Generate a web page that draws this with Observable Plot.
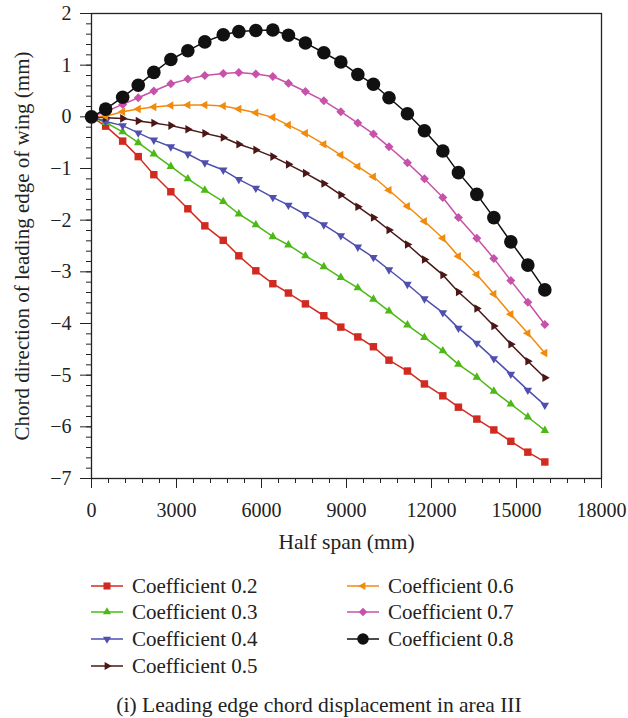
<!DOCTYPE html>
<html><head><meta charset="utf-8">
<script src="https://cdn.jsdelivr.net/npm/d3@7"></script>
<script src="https://cdn.jsdelivr.net/npm/@observablehq/plot@0.6"></script>
<style>
body{margin:0;background:#fff;}
#wrap{position:relative;width:628px;height:718px;font-family:"Liberation Serif",serif;color:#222;overflow:hidden;}
#wrap svg.plot{display:block;}
.leg{position:absolute;display:flex;align-items:center;height:24px;font-size:21px;white-space:nowrap;}
.leg span{margin-left:9px;}
.cap{position:absolute;top:693px;left:0;width:638px;height:24px;line-height:24px;text-align:center;font-size:21.5px;}
</style></head><body><div id="wrap"></div>
<script>
// ---- data ----
const halfSpan = [0,500,1100,1650,2200,2800,3400,4000,4650,5200,5800,6400,6950,7550,8200,8800,9400,9950,10500,11150,11750,12400,12950,13600,14200,14800,15400,16000];
const coef02 = [0,-0.18,-0.47,-0.77,-1.12,-1.45,-1.78,-2.11,-2.39,-2.69,-2.98,-3.23,-3.41,-3.62,-3.85,-4.07,-4.26,-4.45,-4.71,-4.92,-5.17,-5.40,-5.62,-5.85,-6.06,-6.28,-6.49,-6.68];
const coef03 = [0,-0.11,-0.29,-0.50,-0.72,-0.96,-1.20,-1.42,-1.64,-1.88,-2.09,-2.32,-2.48,-2.69,-2.90,-3.11,-3.31,-3.53,-3.76,-4.03,-4.27,-4.53,-4.79,-5.04,-5.31,-5.56,-5.81,-6.07];
const coef04 = [0,-0.09,-0.17,-0.31,-0.45,-0.58,-0.72,-0.89,-1.03,-1.21,-1.38,-1.56,-1.71,-1.89,-2.09,-2.30,-2.52,-2.72,-2.96,-3.24,-3.52,-3.79,-4.09,-4.38,-4.68,-4.98,-5.29,-5.58];
const coef05 = [0,-0.02,-0.03,-0.08,-0.12,-0.17,-0.24,-0.32,-0.40,-0.53,-0.64,-0.77,-0.92,-1.09,-1.29,-1.51,-1.74,-1.95,-2.19,-2.47,-2.76,-3.06,-3.39,-3.71,-4.05,-4.40,-4.73,-5.05];
const coef06 = [0,0.01,0.10,0.15,0.19,0.22,0.23,0.23,0.21,0.15,0.08,-0.01,-0.16,-0.32,-0.53,-0.74,-0.96,-1.16,-1.42,-1.73,-2.02,-2.35,-2.70,-3.05,-3.43,-3.82,-4.19,-4.57];
const coef07 = [0,0.10,0.24,0.37,0.50,0.64,0.73,0.80,0.84,0.86,0.83,0.78,0.65,0.49,0.31,0.10,-0.12,-0.33,-0.58,-0.89,-1.20,-1.56,-1.95,-2.35,-2.74,-3.17,-3.59,-4.02];
const coef08 = [0,0.15,0.38,0.61,0.86,1.11,1.28,1.45,1.59,1.65,1.67,1.68,1.58,1.43,1.24,1.06,0.82,0.63,0.37,0.06,-0.27,-0.66,-1.08,-1.50,-1.95,-2.42,-2.87,-3.35];

const seriesNames = ["Coefficient 0.2","Coefficient 0.3","Coefficient 0.4","Coefficient 0.5","Coefficient 0.6","Coefficient 0.7","Coefficient 0.8"];
const seriesValues = [coef02, coef03, coef04, coef05, coef06, coef07, coef08];
const seriesColors = ["#d22a20","#4cb915","#4f4fb0","#4a1616","#f28a0c","#c851aa","#111111"];

const xTicks = [0,3000,6000,9000,12000,15000,18000];
const yTicks = [-7,-6,-5,-4,-3,-2,-1,0,1,2];
const xLabel = "Half span (mm)";
const yLabel = "Chord direction of leading edge of wing (mm)";
const caption = "(i) Leading edge chord displacement in area III";

// ---- custom marker symbols ----
function tri(angle) {
  return {draw(ctx, size) {
    const R = Math.sqrt(size / Math.PI) * 1.3;
    for (let i = 0; i < 3; i++) {
      const a = angle + i * 2 * Math.PI / 3;
      const px = R * Math.cos(a), py = R * Math.sin(a);
      if (i === 0) ctx.moveTo(px, py); else ctx.lineTo(px, py);
    }
    ctx.closePath();
  }};
}
const symSquare = d3.symbolSquare;
const symUp = tri(-Math.PI / 2);
const symDown = tri(Math.PI / 2);
const symLeft = tri(Math.PI);
const symRight = tri(0);
const symDiamond = {draw(ctx, size) {
  const d = Math.sqrt(size / Math.PI) * 1.25;
  ctx.moveTo(0, -d); ctx.lineTo(d, 0); ctx.lineTo(0, d); ctx.lineTo(-d, 0); ctx.closePath();
}};
const symCircle = d3.symbolCircle;
const seriesSymbols = [symSquare, symUp, symDown, symRight, symLeft, symDiamond, symCircle];
const seriesR = [4.2, 3.8, 3.8, 3.8, 3.8, 3.6, 6.8];

const rows = seriesNames.map((name, i) => halfSpan.map((x, j) => ({series: name, x, y: seriesValues[i][j]})));

const marks = [];
rows.forEach((r, i) => {
  marks.push(Plot.line(r, {x: "x", y: "y", stroke: seriesColors[i], strokeWidth: 1.5}));
  marks.push(Plot.dot(r, {x: "x", y: "y", symbol: seriesSymbols[i], r: seriesR[i], fill: seriesColors[i], stroke: "none"}));
});

const chart = Plot.plot({
  width: 628,
  height: 560,
  marginLeft: 91,
  marginRight: 27,
  marginTop: 13,
  marginBottom: 82,
  style: {fontFamily: "Liberation Serif, serif", fontSize: "20px", color: "#222", background: "#fff", overflow: "visible"},
  x: {domain: [0, 18000]},
  y: {domain: [-7, 2]},
  marks: [
    Plot.axisX({ticks: d3.range(0, 18001, 600), tickSize: 5, tickFormat: () => "", label: null}),
    Plot.axisX({ticks: xTicks, tickSize: 10, tickPadding: 14, tickFormat: d => String(d), label: null, fontSize: 20}),
    Plot.axisY({ticks: d3.range(-35, 11).map(k => k / 5), tickSize: 5, tickFormat: () => "", label: null}),
    Plot.axisY({ticks: yTicks, tickSize: 11, tickPadding: 9, tickFormat: d => d < 0 ? "\u2212" + Math.abs(d) : String(d), label: null, fontSize: 20}),
    Plot.frame({stroke: "#222", strokeWidth: 1.3}),
    ...marks,
    Plot.text([xLabel], {text: d => d, frameAnchor: "bottom", dy: 64, lineAnchor: "middle", fontSize: 21.5}),
    Plot.text([yLabel], {text: d => d, frameAnchor: "left", dx: -69, rotate: -90, textAnchor: "middle", lineAnchor: "middle", fontSize: 21})
  ]
});
chart.classList.add("plot");
const wrap = document.getElementById("wrap");
wrap.appendChild(chart);

// ---- legend ----
const legPos = [[91,586],[91,612],[91,639],[91,666],[347,586],[347,612],[347,639]];
seriesNames.forEach((name, i) => {
  const div = document.createElement("div");
  div.className = "leg";
  div.style.left = legPos[i][0] + "px";
  div.style.top = (legPos[i][1] - 12) + "px";
  const s = seriesR[i] * (i === 6 ? 0.85 : 0.95);
  const path = d3.symbol().type(seriesSymbols[i]).size(Math.PI * s * s)();
  div.innerHTML = `<svg width="32" height="16" viewBox="0 0 32 16"><line x1="0" x2="32" y1="8" y2="8" stroke="${seriesColors[i]}" stroke-width="1.5"/><path transform="translate(16,8)" d="${path}" fill="${seriesColors[i]}"/></svg><span>${name}</span>`;
  wrap.appendChild(div);
});
const cap = document.createElement("div");
cap.className = "cap";
cap.textContent = caption;
wrap.appendChild(cap);
</script>
</body></html>
